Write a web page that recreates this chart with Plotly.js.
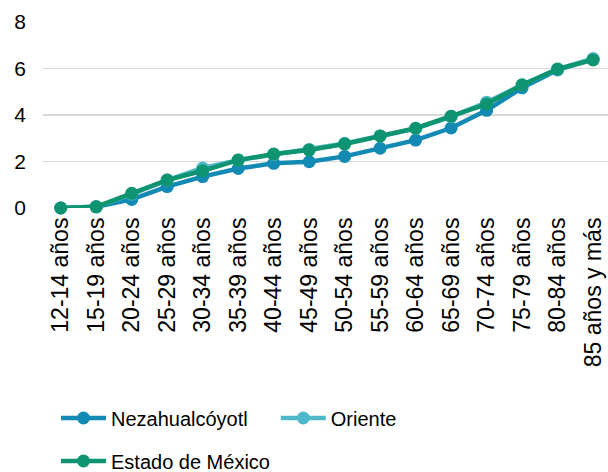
<!DOCTYPE html>
<html>
<head>
<meta charset="utf-8">
<script src="https://cdn.plot.ly/plotly-3.0.1.min.js"></script>
<style>html,body{margin:0;padding:0;background:#fff;}#chart{width:608px;height:472px;}</style>
</head>
<body>
<div id="chart"></div>
<script>
const categories = ["12-14 años","15-19 años","20-24 años","25-29 años","30-34 años","35-39 años","40-44 años","45-49 años","50-54 años","55-59 años","60-64 años","65-69 años","70-74 años","75-79 años","80-84 años","85 años y más"];
const nezahualcoyotl = [0, 0.05, 0.37, 0.92, 1.35, 1.7, 1.92, 1.99, 2.22, 2.57, 2.92, 3.44, 4.2, 5.17, 5.94, 6.4];
const oriente = [0, 0.05, 0.6, 1.2, 1.72, 2.06, 2.3, 2.52, 2.78, 3.1, 3.42, 3.92, 4.55, 5.3, 5.96, 6.43];
const estadoMexico = [0, 0.05, 0.63, 1.2, 1.6, 2.06, 2.32, 2.49, 2.75, 3.1, 3.43, 3.95, 4.47, 5.29, 5.98, 6.37];
const yTicks = [0, 2, 4, 6, 8];

const font = "Liberation Sans, Arial, sans-serif";
function tr(name, y, color, legend) {
  return {
    type: "scatter", mode: "lines+markers", name: name, x: categories, y: y,
    line: {color: color, width: 4.5}, marker: {color: color, size: 13},
    legend: legend, cliponaxis: false
  };
}
const data = [
  tr("Nezahualcóyotl", nezahualcoyotl, "#138AB4", "legend"),
  tr("Oriente", oriente, "#4FB8C8", "legend2"),
  tr("Estado de México", estadoMexico, "#0E9470", "legend3")
];
const legendBase = {
  orientation: "h", xanchor: "left", yanchor: "middle", xref: "paper", yref: "container",
  font: {family: font, size: 20, color: "#000"}, bgcolor: "rgba(0,0,0,0)",
  itemwidth: 45
};
const layout = {
  width: 608, height: 472,
  margin: {l: 43, r: 0, t: 22, b: 264},
  paper_bgcolor: "#fff", plot_bgcolor: "#fff",
  showlegend: true,
  xaxis: {
    type: "category", range: [-0.5, 15.42], tickangle: -90,
    showgrid: false, zeroline: false, showline: false, ticks: "",
    tickfont: {family: font, size: 23, color: "#000"}, ticklabelstandoff: 4
  },
  yaxis: {
    range: [0, 8], tickvals: yTicks, ticktext: yTicks.map(String),
    showgrid: true, gridcolor: "#D9D9D9", gridwidth: 1.5, zeroline: false, showline: false, ticks: "",
    tickfont: {family: font, size: 21, color: "#000"}, ticklabelstandoff: 16
  },
  legend: Object.assign({}, legendBase, {x: 0.023, y: 0.1144}),
  legend2: Object.assign({}, legendBase, {x: 0.412, y: 0.1144}),
  legend3: Object.assign({}, legendBase, {x: 0.023, y: 0.0233})
};
Plotly.newPlot("chart", data, layout, {staticPlot: true, displayModeBar: false});
</script>
</body>
</html>
